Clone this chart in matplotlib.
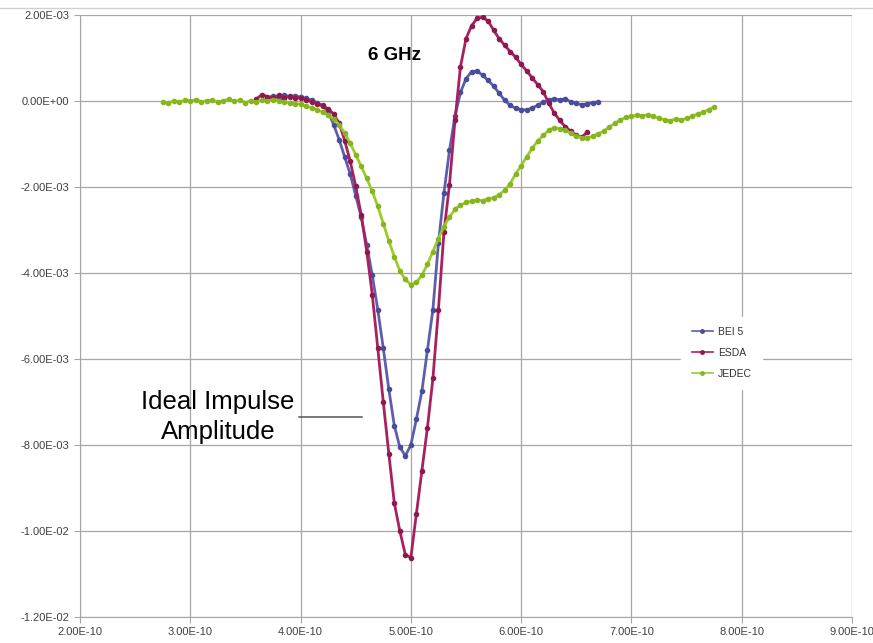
import matplotlib
matplotlib.use("Agg")
import matplotlib.pyplot as plt
from matplotlib.ticker import FuncFormatter
from matplotlib.lines import Line2D
import numpy as np

# time in units of 1E-10 s, amplitude in units of 1E-3
bei_t0, esda_t0, jedec_t0, step = 3.70, 3.60, 2.75, 0.05

bei5 = [0.06, 0.12, 0.08, 0.14, 0.10, 0.12, 0.09, 0.06, 0.02, -0.04, -0.10,
        -0.25, -0.55, -0.90, -1.30, -1.70, -2.20, -2.70, -3.35, -4.05, -4.85,
        -5.75, -6.70, -7.55, -8.05, -8.25, -8.00, -7.40, -6.75, -5.80, -4.85,
        -3.30, -2.14, -1.15, -0.35, 0.20, 0.52, 0.68, 0.70, 0.60, 0.48,
        0.35, 0.18, 0.02, -0.10, -0.17, -0.20, -0.21, -0.16, -0.10, -0.03,
        0.02, 0.05, 0.03, 0.05, -0.02, -0.05, -0.09, -0.06, -0.04, -0.02]

esda = [0.05, 0.15, 0.10, 0.08, 0.13, 0.07, 0.11, 0.06, 0.08, 0.03, -0.02,
        -0.06, -0.12, -0.18, -0.30, -0.52, -0.92, -1.40, -1.98, -2.65, -3.50,
        -4.50, -5.75, -7.00, -8.20, -9.35, -10.00, -10.55, -10.62, -9.60, -8.60,
        -7.60, -6.45, -4.85, -3.05, -1.95, -0.45, 0.80, 1.45, 1.75, 1.92,
        1.95, 1.86, 1.65, 1.45, 1.30, 1.15, 1.02, 0.85, 0.70, 0.54,
        0.38, 0.22, -0.05, -0.28, -0.45, -0.60, -0.70, -0.80, -0.84, -0.72]

jedec = [-0.02, -0.05, 0.01, -0.03, 0.02, 0.00, 0.03, -0.02, 0.01, 0.02,
         -0.03, 0.01, 0.04, -0.01, 0.02, -0.04, 0.01, -0.02, 0.02, 0.00,
         0.03, 0.01, -0.02, -0.04, -0.06, -0.08, -0.12, -0.16, -0.20, -0.26,
         -0.32, -0.42, -0.55, -0.75, -0.98, -1.25, -1.52, -1.80, -2.10, -2.45,
         -2.85, -3.25, -3.62, -3.95, -4.15, -4.27, -4.22, -4.05, -3.80, -3.50,
         -3.20, -2.92, -2.70, -2.52, -2.42, -2.36, -2.33, -2.30, -2.32, -2.27,
         -2.25, -2.18, -2.08, -1.92, -1.70, -1.50, -1.30, -1.10, -0.93, -0.80,
         -0.68, -0.62, -0.64, -0.68, -0.75, -0.82, -0.85, -0.86, -0.82, -0.76,
         -0.70, -0.60, -0.52, -0.44, -0.38, -0.36, -0.33, -0.34, -0.32, -0.36,
         -0.40, -0.44, -0.46, -0.42, -0.44, -0.40, -0.36, -0.30, -0.26, -0.20,
         -0.14]

xticks = [2e-10, 3e-10, 4e-10, 5e-10, 6e-10, 7e-10, 8e-10, 9e-10]
yticks = [2e-3, 0.0, -2e-3, -4e-3, -6e-3, -8e-3, -1e-2, -1.2e-2]

series = [("BEI 5", bei_t0, bei5, "#5d5fac", "#4a4c98"),
          ("ESDA", esda_t0, esda, "#a8215f", "#8c1a4e"),
          ("JEDEC", jedec_t0, jedec, "#9ccb2c", "#86b51e")]

fig = plt.figure(figsize=(8.73, 6.43), dpi=100)
ax = fig.add_axes([80/873, 26/643, 772/873, 602/643])

for name, t0, vals, col, mcol in series:
    t = (t0 + step * np.arange(len(vals))) * 1e-10
    v = np.array(vals) * 1e-3
    ax.plot(t, v, color=col, lw=2.0, marker='o', ms=3.0, mfc=mcol, mec=mcol,
            label=name, zorder=3)

ax.set_xlim(2e-10, 9e-10)
ax.set_ylim(-1.2e-2, 2e-3)
ax.set_xticks(xticks)
ax.set_yticks(yticks)
fmt = FuncFormatter(lambda v, p: f"{v:.2E}")
ax.xaxis.set_major_formatter(fmt)
ax.yaxis.set_major_formatter(fmt)
ax.grid(True, color="#a6a6a6", lw=0.9)
ax.set_axisbelow(True)
for s in ["top", "right"]:
    ax.spines[s].set_visible(False)
for s in ["left", "bottom"]:
    ax.spines[s].set_color("#a6a6a6")
ax.tick_params(colors="#a6a6a6", length=4, labelcolor="#404040",
               labelsize=8)
for lab in ax.get_xticklabels() + ax.get_yticklabels():
    lab.set_family(["Liberation Sans Narrow", "Liberation Sans", "DejaVu Sans"])

ax.text(4.61e-10, 1.05e-3, "6 GHz", fontsize=13.5, fontweight="bold",
        family=["Liberation Sans", "DejaVu Sans"], ha="left", va="center")
ax.text(3.25e-10, -7.35e-3, "Ideal Impulse\nAmplitude", fontsize=18.5,
        family=["Liberation Sans", "DejaVu Sans"], ha="center", va="center",
        linespacing=1.35)
ax.plot([3.99e-10, 4.56e-10], [-7.35e-3, -7.35e-3], color="#555555", lw=1.1)

leg = ax.legend(loc="center", bbox_to_anchor=(7.82e-10, -5.86e-3),
                bbox_transform=ax.transData, frameon=True,
                handlelength=2.0, handletextpad=0.5, labelspacing=1.05,
                borderpad=1.0,
                prop={"family": ["Liberation Sans Narrow", "Liberation Sans"], "size": 7.5})
leg.get_frame().set_edgecolor("white")
leg.get_frame().set_facecolor("white")
leg.get_frame().set_alpha(1)
for txt in leg.get_texts():
    txt.set_color("#333333")
for h in leg.legend_handles:
    h.set_markersize(2.5)
    h.set_linewidth(1.2)

fig.add_artist(Line2D([0, 1], [1 - 8/643, 1 - 8/643], color="#d0d0d0", lw=1))

fig.savefig("out.png", dpi=100)
